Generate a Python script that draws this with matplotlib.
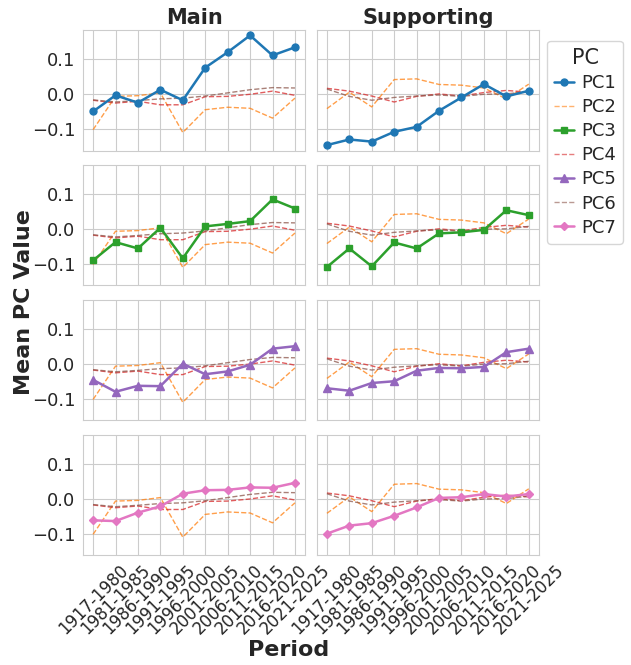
import numpy as np
import matplotlib
matplotlib.use("Agg")
import matplotlib.pyplot as plt
import seaborn as sns
from matplotlib.lines import Line2D

sns.set_style("whitegrid")
plt.rcParams['font.family'] = ['DejaVu Sans']

# Data
periods = ['1917-1980', '1981-1985', '1986-1990', '1991-1995', '1996-2000',
           '2001-2005', '2006-2010', '2011-2015', '2016-2020', '2021-2025']
groups = ['Main', 'Supporting']

main = {
    'PC1': [-0.050, -0.004, -0.025, 0.012, -0.018, 0.075, 0.119, 0.167, 0.110, 0.133],
    'PC2': [-0.102, -0.007, -0.005, 0.003, -0.110, -0.045, -0.038, -0.041, -0.069, -0.012],
    'PC3': [-0.090, -0.038, -0.056, 0.003, -0.084, 0.007, 0.014, 0.022, 0.084, 0.058],
    'PC4': [-0.018, -0.026, -0.021, -0.031, -0.031, -0.008, -0.007, -0.001, 0.008, -0.004],
    'PC5': [-0.046, -0.080, -0.063, -0.064, 0.000, -0.030, -0.022, -0.003, 0.043, 0.050],
    'PC6': [-0.017, -0.023, -0.019, -0.014, -0.012, -0.006, 0.003, 0.012, 0.018, 0.017],
    'PC7': [-0.062, -0.064, -0.040, -0.022, 0.014, 0.024, 0.025, 0.032, 0.031, 0.045],
}
supporting = {
    'PC1': [-0.146, -0.130, -0.136, -0.108, -0.094, -0.048, -0.010, 0.028, -0.007, 0.009],
    'PC2': [-0.042, 0.005, -0.037, 0.041, 0.043, 0.027, 0.025, 0.017, -0.014, 0.028],
    'PC3': [-0.109, -0.056, -0.107, -0.039, -0.056, -0.013, -0.010, -0.003, 0.053, 0.039],
    'PC4': [0.016, 0.008, -0.006, -0.023, -0.007, 0.000, -0.006, 0.004, 0.010, 0.005],
    'PC5': [-0.070, -0.077, -0.055, -0.050, -0.020, -0.012, -0.013, -0.009, 0.033, 0.043],
    'PC6': [0.014, -0.007, -0.018, -0.010, -0.006, -0.003, -0.007, -0.001, 0.000, 0.007],
    'PC7': [-0.100, -0.077, -0.070, -0.049, -0.025, 0.002, 0.004, 0.013, 0.006, 0.013],
}
data = {'Main': main, 'Supporting': supporting}

pcs = ['PC1', 'PC2', 'PC3', 'PC4', 'PC5', 'PC6', 'PC7']
colors = dict(zip(pcs, sns.color_palette('tab10', 7)))
markers = {'PC1': 'o', 'PC3': 's', 'PC5': '^', 'PC7': 'D'}
msizes = {'PC1': 5, 'PC3': 5, 'PC5': 5.5, 'PC7': 4.5}
highlight = ['PC1', 'PC3', 'PC5', 'PC7']
background = ['PC2', 'PC4', 'PC6']

x = np.arange(len(periods))

fig, axes = plt.subplots(4, 2, figsize=(6.31, 6.65), dpi=100, sharex=True, sharey=True)
fig.subplots_adjust(left=0.1315, right=0.854, top=0.955, bottom=0.165,
                    wspace=0.053, hspace=0.118)

for r, pc in enumerate(highlight):
    for c, g in enumerate(groups):
        ax = axes[r, c]
        for bg in background:
            ax.plot(x, data[g][bg], color=colors[bg], ls='--', lw=1.0, alpha=0.75, zorder=2)
        ax.plot(x, data[g][pc], color=colors[pc], marker=markers[pc], lw=1.8,
                ms=msizes[pc], zorder=3)
        ax.tick_params(labelsize=13, pad=2)
        for s in ax.spines.values():
            s.set_color('0.8')
        if r == 0:
            ax.set_title(g, fontsize=15, fontweight='bold', pad=4)

axes[0, 0].set_xticks(x)
axes[0, 0].set_xticklabels(periods)
axes[0, 0].set_yticks([-0.1, 0.0, 0.1])
axes[0, 0].set_yticklabels(['\u22120.1', '0.0', '0.1'])
for ax in axes[-1]:
    ax.tick_params(axis='x', labelsize=12, pad=1)
    plt.setp(ax.get_xticklabels(), rotation=45, ha='center')

fig.text(0.457, 0.008, 'Period', ha='center', va='bottom', fontsize=16, fontweight='bold')
fig.text(0.038, 0.546, 'Mean PC Value', ha='center', va='center', rotation=90,
         fontsize=16, fontweight='bold')

handles = []
for pc in pcs:
    if pc in markers:
        handles.append(Line2D([], [], color=colors[pc], marker=markers[pc], lw=1.8,
                              ms=msizes[pc]))
    else:
        handles.append(Line2D([], [], color=colors[pc], ls='--', lw=1.0, alpha=0.6))
leg = fig.legend(handles, pcs, title='PC', loc='upper left',
                 bbox_to_anchor=(0.867, 0.939), fontsize=13, title_fontsize=15,
                 frameon=True, handlelength=1.07, handletextpad=0.4,
                 borderpad=0.4, labelspacing=0.34, borderaxespad=0)

fig.savefig('out.png', dpi=100)
